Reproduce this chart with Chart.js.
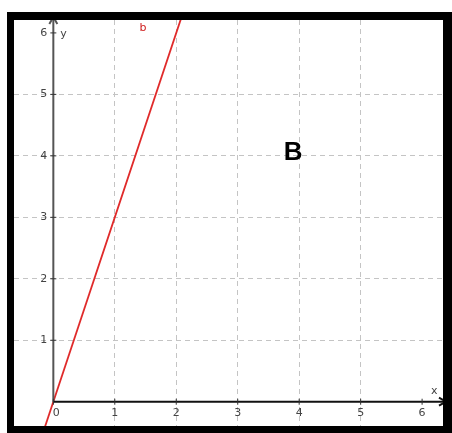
<!DOCTYPE html>
<html lang="en">
<head>
  <meta charset="UTF-8" />
  <title>Line b</title>
  <script src="https://cdn.jsdelivr.net/npm/chart.js"></script>
  <style>
    body { margin: 0; background: #fff; }
    #wrap { width: 452px; height: 433px; }
  </style>
</head>
<body>
  <div id="wrap"><canvas id="chart" width="452" height="433"></canvas></div>

  <script>
    // values
    const xTicks = [0, 1, 2, 3, 4, 5, 6];
    const yTicks = [1, 2, 3, 4, 5, 6];
    const lineX = [-0.2, 2.2];
    const lineY = [-0.6, 6.6];
    const lineName = 'b';
    const bigLabel = 'B';

    // axes, tick marks, labels and frame, all placed through the scales
    const axesPlugin = {
      id: 'axes',
      afterDraw(chart) {
        const ctx = chart.ctx;
        const xs = chart.scales.x, ys = chart.scales.y;
        const a = chart.chartArea;
        const ox = xs.getPixelForValue(0), oy = ys.getPixelForValue(0);
        ctx.save();

        // y axis
        ctx.strokeStyle = '#555';
        ctx.lineWidth = 2;
        ctx.beginPath();
        ctx.moveTo(ox, oy);
        ctx.lineTo(ox, a.top - 3);
        ctx.stroke();
        ctx.beginPath();
        ctx.moveTo(ox - 4, a.top + 4);
        ctx.lineTo(ox, a.top - 3);
        ctx.lineTo(ox + 4, a.top + 4);
        ctx.stroke();

        // x axis
        ctx.strokeStyle = '#111';
        ctx.beginPath();
        ctx.moveTo(ox, oy);
        ctx.lineTo(a.right + 3, oy);
        ctx.stroke();
        ctx.beginPath();
        ctx.moveTo(a.right - 4, oy - 4);
        ctx.lineTo(a.right + 3, oy);
        ctx.lineTo(a.right - 4, oy + 4);
        ctx.stroke();

        // tick marks + labels
        ctx.font = '11px "DejaVu Sans", sans-serif';
        ctx.fillStyle = '#444';
        ctx.lineWidth = 1;
        ctx.strokeStyle = '#333';
        xTicks.forEach(v => {
          const px = xs.getPixelForValue(v);
          ctx.beginPath();
          ctx.moveTo(px, oy - 3);
          ctx.lineTo(px, oy + 3);
          ctx.stroke();
          ctx.textAlign = 'center';
          ctx.textBaseline = 'top';
          ctx.fillText(String(v), v === 0 ? px + 3 : px, oy + 6);
        });
        yTicks.forEach(v => {
          const py = ys.getPixelForValue(v);
          ctx.beginPath();
          ctx.moveTo(ox - 3, py);
          ctx.lineTo(ox + 3, py);
          ctx.stroke();
          ctx.textAlign = 'right';
          ctx.textBaseline = 'middle';
          ctx.fillText(String(v), ox - 6, py);
        });

        // axis names
        ctx.textAlign = 'left';
        ctx.textBaseline = 'middle';
        ctx.fillText('x', a.right - 12, oy - 11);
        ctx.fillText('y', ox + 7, ys.getPixelForValue(6) + 1);

        // line name
        ctx.fillStyle = '#d02020';
        ctx.fillText(lineName, xs.getPixelForValue(1.4), ys.getPixelForValue(6.08));

        // big letter
        ctx.fillStyle = '#000';
        ctx.font = 'bold 26px "Liberation Sans", Arial, sans-serif';
        ctx.textAlign = 'center';
        ctx.fillText(bigLabel, xs.getPixelForValue(3.9), ys.getPixelForValue(4.05));

        // black frame around the plot area
        ctx.fillStyle = '#000';
        ctx.fillRect(a.left - 7, a.top - 8, a.right - a.left + 16, 8);
        ctx.fillRect(a.left - 7, a.bottom, a.right - a.left + 16, 7);
        ctx.fillRect(a.left - 7, a.top - 8, 7, a.bottom - a.top + 15);
        ctx.fillRect(a.right, a.top - 8, 9, a.bottom - a.top + 15);
        ctx.restore();
      }
    };

    const onlyWhole = scale => {
      scale.ticks = scale.ticks.filter(t => Number.isInteger(t.value));
    };
    const gridColor = c => (c.tick && c.tick.value === 0 ? 'rgba(0,0,0,0)' : '#c4c4c4');

    new Chart(document.getElementById('chart'), {
      type: 'scatter',
      data: {
        datasets: [{
          label: lineName,
          data: lineX.map((x, i) => ({ x: x, y: lineY[i] })),
          showLine: true,
          borderColor: '#e02a2a',
          borderWidth: 1.8,
          pointRadius: 0,
          fill: false
        }]
      },
      options: {
        responsive: false,
        animation: false,
        layout: { padding: { left: 14, top: 20, right: 9, bottom: 7 } },
        plugins: { legend: { display: false }, tooltip: { enabled: false } },
        scales: {
          x: {
            type: 'linear',
            min: -0.64,
            max: 6.34,
            afterBuildTicks: onlyWhole,
            ticks: { display: false, stepSize: 1 },
            grid: { color: gridColor, lineWidth: 1, drawTicks: false },
            border: { display: false, dash: [5, 4] }
          },
          y: {
            type: 'linear',
            min: -0.395,
            max: 6.21,
            afterBuildTicks: onlyWhole,
            ticks: { display: false, stepSize: 1 },
            grid: { color: gridColor, lineWidth: 1, drawTicks: false },
            border: { display: false, dash: [5, 4] }
          }
        }
      },
      plugins: [axesPlugin]
    });
  </script>
</body>
</html>
